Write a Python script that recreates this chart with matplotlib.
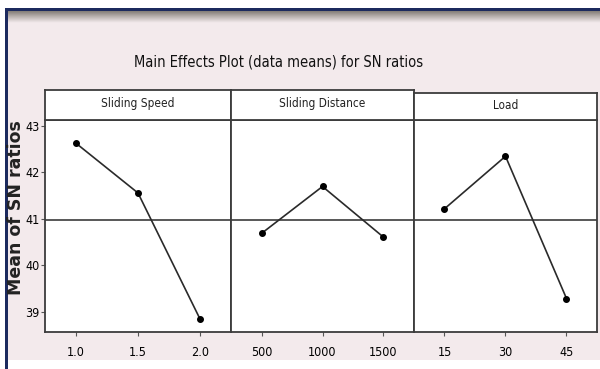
import numpy as np
import matplotlib
matplotlib.use("Agg")
import matplotlib.pyplot as plt
from matplotlib import font_manager
from matplotlib.patches import Rectangle
from matplotlib.colors import LinearSegmentedColormap

# data
factors = ['Sliding Speed', 'Sliding Distance', 'Load']
levels = [['1.0', '1.5', '2.0'], ['500', '1000', '1500'], ['15', '30', '45']]
speed_sn = [42.62, 41.55, 38.84]
distance_sn = [40.68, 41.69, 40.60]
load_sn = [41.21, 42.34, 39.28]
y_ticks = [39, 40, 41, 42, 43]

all_sn = [speed_sn, distance_sn, load_sn]
grand_mean = np.mean(speed_sn + distance_sn + load_sn)

W, H = 600, 369
pink = '#f3eaec'
edge = '#3c3c3c'

# look for a narrow regular face, fall back to plain DejaVu
narrow_file = None
for pref in ['ultra-condensed', 'extra-condensed', 'condensed', 'semi-condensed']:
    for f in font_manager.fontManager.ttflist:
        if f.stretch == pref and f.style == 'normal' and f.weight in (400, 'normal') \
                and 'Mono' not in f.name and 'Serif' not in f.name:
            narrow_file = f.fname
            break
    if narrow_file:
        break

def nf(size):
    if narrow_file:
        return font_manager.FontProperties(fname=narrow_file, size=size)
    return font_manager.FontProperties(family='DejaVu Sans', size=size)

fig = plt.figure(figsize=(W / 100, H / 100), dpi=100)
fig.patch.set_facecolor('white')

def px(x0, y0, x1, y1):
    # pixel box (top-left origin) -> figure fraction rect
    return [x0 / W, (H - y1) / H, (x1 - x0) / W, (y1 - y0) / H]

# window frame
r = px(5, 8, 600, 360)
fig.patches.append(Rectangle((r[0], r[1]), r[2], r[3], transform=fig.transFigure,
                             facecolor=pink, edgecolor='none', zorder=-5))
r = px(5, 8, 600, 11)
fig.patches.append(Rectangle((r[0], r[1]), r[2], r[3], transform=fig.transFigure,
                             facecolor='#1c2a5e', edgecolor='none', zorder=-4))
r = px(5, 8, 8, 369)
fig.patches.append(Rectangle((r[0], r[1]), r[2], r[3], transform=fig.transFigure,
                             facecolor='#1c2a5e', edgecolor='none', zorder=-4))

# shaded band below the top bar
gax = fig.add_axes(px(8, 11, 600, 23))
cmap = LinearSegmentedColormap.from_list('shade', ['#857f79', '#bdb6b4', pink])
gax.imshow(np.linspace(0, 1, 20).reshape(-1, 1), aspect='auto', cmap=cmap,
           extent=[0, 1, 0, 1])
gax.axis('off')

fig.text(279 / W, (H - 62) / H, 'Main Effects Plot (data means) for SN ratios',
         ha='center', va='center', fontproperties=nf(10.5), color='#111111')

fig.text(16 / W, (H - 208) / H, 'Mean of SN ratios', rotation=90, ha='center',
         va='center', fontsize=12.5, fontweight='bold', color='#222222')

x_edges = [45, 231, 414, 597]
strip_tops = [90, 90, 93]

for i, name in enumerate(factors):
    ax = fig.add_axes(px(x_edges[i], 120, x_edges[i + 1], 332))
    ax.set_facecolor('white')
    x = np.arange(len(levels[i]))
    ax.axhline(grand_mean, color='#4a4a4a', lw=1.3, zorder=1)
    ax.plot(x, all_sn[i], color='#2a2a2a', lw=1.2, marker='o', ms=4,
            mfc='black', mec='black', zorder=3)
    ax.set_xlim(-0.5, 2.5)
    ax.set_ylim(38.56, 43.12)
    ax.set_xticks(x)
    ax.set_xticklabels(levels[i], fontproperties=nf(9))
    ax.set_yticks(y_ticks)
    if i == 0:
        ax.set_yticklabels([str(t) for t in y_ticks], fontproperties=nf(9))
    else:
        ax.tick_params(axis='y', left=False, labelleft=False)
    ax.tick_params(axis='both', direction='out', length=3, width=0.8,
                   color='#555555')
    ax.tick_params(axis='x', pad=7)
    ax.tick_params(axis='y', pad=1)
    for s in ax.spines.values():
        s.set_color(edge)
        s.set_linewidth(1.3)

    sax = fig.add_axes(px(x_edges[i], strip_tops[i], x_edges[i + 1], 120))
    sax.set_facecolor('white')
    sax.set_xticks([])
    sax.set_yticks([])
    for s in sax.spines.values():
        s.set_color(edge)
        s.set_linewidth(1.3)
    sax.text(0.5, 0.55, name, ha='center', va='center', transform=sax.transAxes,
             fontproperties=nf(8.5), color='#222222')

fig.savefig('out.png', dpi=100, facecolor=fig.get_facecolor())
